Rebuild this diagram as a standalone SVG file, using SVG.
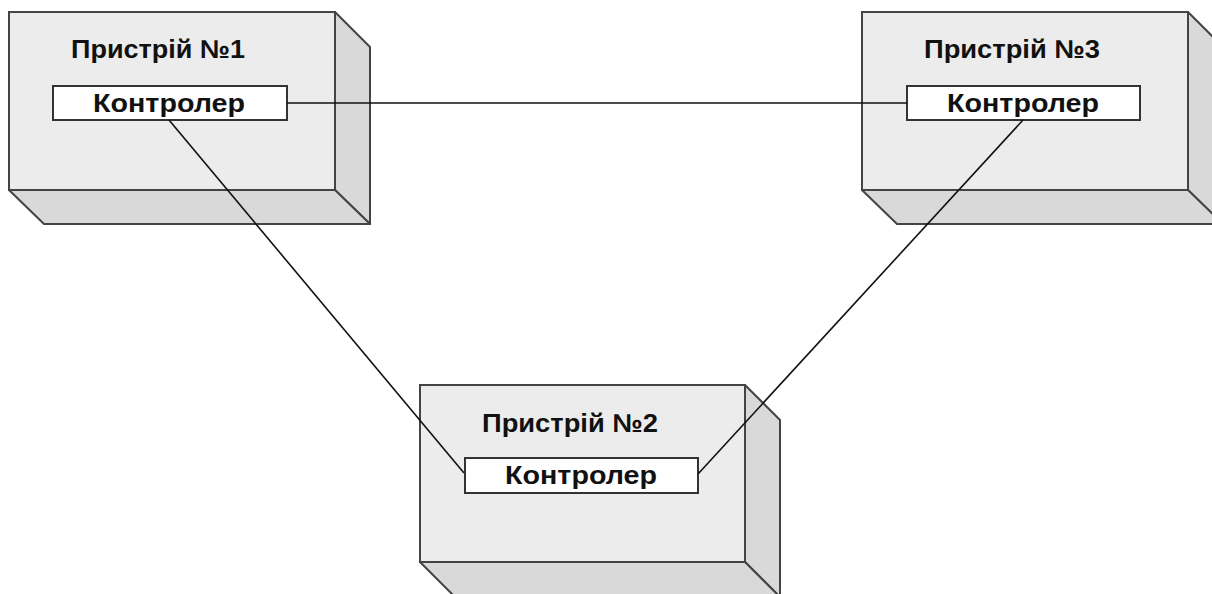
<svg xmlns="http://www.w3.org/2000/svg" width="1212" height="594" viewBox="0 0 1212 594">
  <style>
    .front { fill: #ececec; stroke: #444; stroke-width: 2; }
    .shade { fill: #d9d9d9; stroke: #444; stroke-width: 2; stroke-linejoin: round; }
    .ctrl { fill: #ffffff; stroke: #333; stroke-width: 2; }
    .title { font-family: "Liberation Sans", Arial, sans-serif; font-weight: bold; font-size: 26px; fill: #111; text-anchor: middle; }
    .label { font-family: "Liberation Sans", Arial, sans-serif; font-weight: bold; font-size: 26px; fill: #111; text-anchor: middle; }
    .link { stroke: #111; stroke-width: 1.6; fill: none; }
  </style>
  <rect width="1212" height="594" fill="#ffffff"/>

  <!-- Device 1 -->
  <g id="device1">
    <polygon class="shade" points="335,12 370,47 370,224 335,190"/>
    <polygon class="shade" points="9,190 335,190 370,224 44,224"/>
    <rect class="front" x="9" y="12" width="326" height="178"/>
    <text class="title" x="158" y="58" textLength="174" lengthAdjust="spacingAndGlyphs">Пристрій №1</text>
    <rect class="ctrl" x="53" y="86" width="234" height="34"/>
    <text class="label" x="169" y="112" textLength="152" lengthAdjust="spacingAndGlyphs">Контролер</text>
  </g>

  <!-- Device 3 -->
  <g id="device3">
    <polygon class="shade" points="1188,12 1223,47 1223,224 1188,190"/>
    <polygon class="shade" points="862,190 1188,190 1223,224 897,224"/>
    <rect class="front" x="862" y="12" width="326" height="178"/>
    <text class="title" x="1012" y="58" textLength="176" lengthAdjust="spacingAndGlyphs">Пристрій №3</text>
    <rect class="ctrl" x="907" y="86" width="233" height="34"/>
    <text class="label" x="1023" y="112" textLength="152" lengthAdjust="spacingAndGlyphs">Контролер</text>
  </g>

  <!-- Device 2 -->
  <g id="device2">
    <polygon class="shade" points="745,385 780,420 780,597 745,562"/>
    <polygon class="shade" points="420,562 745,562 780,597 455,597"/>
    <rect class="front" x="420" y="385" width="325" height="177"/>
    <text class="title" x="570" y="432" textLength="176" lengthAdjust="spacingAndGlyphs">Пристрій №2</text>
    <rect class="ctrl" x="465" y="458" width="233" height="35"/>
    <text class="label" x="581" y="484" textLength="152" lengthAdjust="spacingAndGlyphs">Контролер</text>
  </g>

  <!-- Links between controllers -->
  <g id="connectors">
    <line class="link" x1="287" y1="103" x2="907" y2="103"/>
    <line class="link" x1="169" y1="120" x2="464" y2="473"/>
    <line class="link" x1="1023" y1="120" x2="698" y2="474"/>
  </g>
</svg>
